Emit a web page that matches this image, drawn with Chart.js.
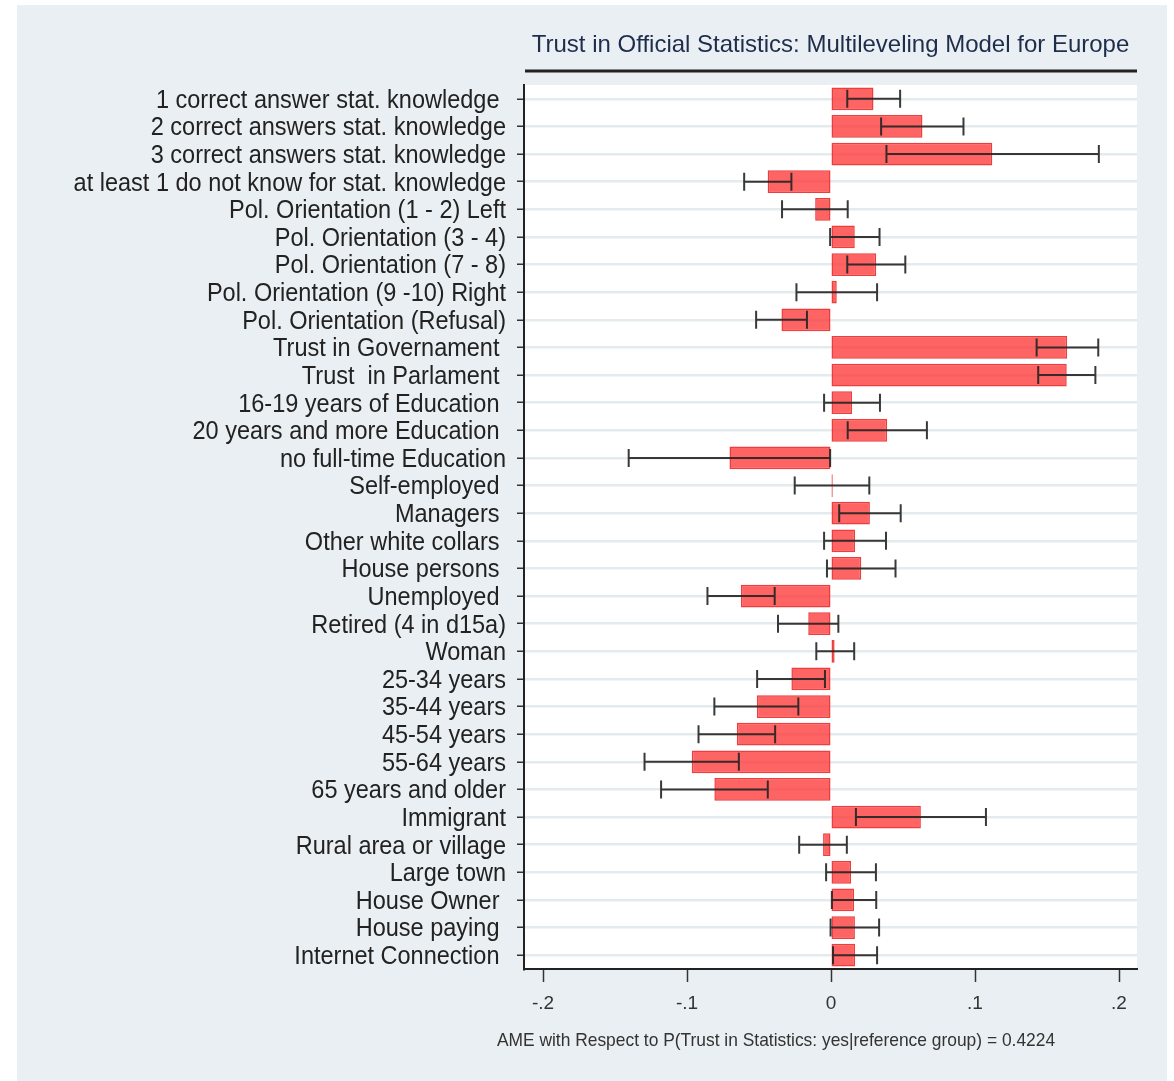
<!DOCTYPE html>
<html>
<head>
<meta charset="utf-8">
<title>Trust in Official Statistics</title>
<script src="https://cdn.jsdelivr.net/npm/chart.js@4.4.1/dist/chart.umd.min.js"></script>
<style>
  html, body { margin: 0; padding: 0; background: #ffffff; }
  #wrap { width: 1174px; height: 1081px; position: relative; }
</style>
</head>
<body>
<div id="wrap"><canvas id="chart" width="1174" height="1081"></canvas></div>
<script>
// Average marginal effects with 95% confidence intervals
const categories = [
  '1 correct answer stat. knowledge ',
  '2 correct answers stat. knowledge',
  '3 correct answers stat. knowledge',
  'at least 1 do not know for stat. knowledge',
  'Pol. Orientation (1 - 2) Left',
  'Pol. Orientation (3 - 4)',
  'Pol. Orientation (7 - 8)',
  'Pol. Orientation (9 -10) Right',
  'Pol. Orientation (Refusal)',
  'Trust in Governament ',
  'Trust  in Parlament ',
  '16-19 years of Education ',
  '20 years and more Education ',
  'no full-time Education',
  'Self-employed ',
  'Managers ',
  'Other white collars ',
  'House persons ',
  'Unemployed ',
  'Retired (4 in d15a)',
  'Woman',
  '25-34 years',
  '35-44 years',
  '45-54 years',
  '55-64 years',
  '65 years and older',
  'Immigrant',
  'Rural area or village',
  'Large town',
  'House Owner ',
  'House paying ',
  'Internet Connection '
];

const ame = [
  0.0295, 0.0635, 0.112, -0.044, -0.011, 0.0165, 0.0314, 0.004, -0.0344,
  0.164, 0.1637, 0.0146, 0.039, -0.0705, 0.0012, 0.027, 0.0167, 0.021,
  -0.0625, -0.0158, 0.0025, -0.0275, -0.0515, -0.0654, -0.0967, -0.081,
  0.0624, -0.0055, 0.0139, 0.016, 0.0166, 0.0167
];

const ciLow = [
  0.0113, 0.0348, 0.0385, -0.0603, -0.034, -0.0006, 0.0113, -0.024, -0.052,
  0.1428, 0.1439, -0.0048, 0.0116, -0.1405, -0.0252, 0.0057, -0.0048, -0.0028,
  -0.0858, -0.0368, -0.0102, -0.0513, -0.081, -0.092, -0.1295, -0.118,
  0.0173, -0.0221, -0.0034, 0.0006, -0.0003, 0.0014
];

const ciHigh = [
  0.048, 0.092, 0.186, -0.0275, 0.0116, 0.0337, 0.0516, 0.032, -0.0167,
  0.1856, 0.1836, 0.034, 0.0666, -0.0006, 0.0266, 0.0484, 0.0382, 0.0448,
  -0.0391, 0.0051, 0.0161, -0.0042, -0.0227, -0.0388, -0.064, -0.0439,
  0.1076, 0.011, 0.0312, 0.0314, 0.0334, 0.032
];

const xTickValues = [-0.2, -0.1, 0, 0.1, 0.2];
const xTickLabels = ['-.2', '-.1', '0', '.1', '.2'];

const chartTitle = 'Trust in Official Statistics: Multileveling Model for Europe';
const xAxisTitle = 'AME with Respect to P(Trust in Statistics: yes|reference group) = 0.4224';

const FONT = "'Liberation Sans', Arial, sans-serif";
const NARROW = 0.94; // horizontal squeeze for the condensed label look

// Category axis whose labels are drawn slightly condensed, anchored at their right edge
class CondensedCategoryScale extends Chart.CategoryScale {
  drawLabels(chartArea) {
    const ctx = this.ctx;
    const o = this.options;
    const ax = this.right - o.grid.tickLength - o.ticks.padding;
    ctx.save();
    ctx.translate(ax, 2);
    ctx.scale(NARROW, 1);
    ctx.translate(-ax, 0);
    super.drawLabels(chartArea);
    ctx.restore();
  }
}
CondensedCategoryScale.id = 'condensedCategory';
CondensedCategoryScale.defaults = Chart.CategoryScale.defaults;
Chart.register(CondensedCategoryScale);

// Panel background, white plot region, rule under the title and the x-axis title
const backdrop = {
  id: 'backdrop',
  beforeDraw(chart) {
    const { ctx, chartArea } = chart;
    ctx.save();
    ctx.fillStyle = '#ffffff';
    ctx.fillRect(0, 0, chart.width, chart.height);
    ctx.fillStyle = '#e9eff2';
    ctx.fillRect(17, 5, 1150, chart.height - 5);
    ctx.fillStyle = '#ffffff';
    ctx.fillRect(chartArea.left, chartArea.top, chartArea.right - chartArea.left, chartArea.bottom - chartArea.top);
    ctx.restore();
  },
  afterDraw(chart) {
    const { ctx, chartArea } = chart;
    ctx.save();
    ctx.strokeStyle = '#222222';
    ctx.lineWidth = 3;
    ctx.beginPath();
    ctx.moveTo(chartArea.left + 1, chartArea.top - 14);
    ctx.lineTo(chartArea.right, chartArea.top - 14);
    ctx.stroke();
    ctx.translate(776, chartArea.bottom + 72);
    ctx.scale(NARROW, 1);
    ctx.fillStyle = '#333333';
    ctx.font = '18.5px ' + FONT;
    ctx.textAlign = 'center';
    ctx.textBaseline = 'middle';
    ctx.fillText(xAxisTitle, 0, 0);
    ctx.restore();
  }
};

// Confidence-interval whiskers drawn over the bars
const ciBars = {
  id: 'ciBars',
  afterDatasetsDraw(chart) {
    const { ctx } = chart;
    const xs = chart.scales.x, ys = chart.scales.y;
    ctx.save();
    ctx.strokeStyle = 'rgba(35,35,35,0.9)';
    ctx.lineWidth = 2;
    const cap = 9;
    for (let i = 0; i < categories.length; i++) {
      const y = ys.getPixelForValue(i);
      const x1 = xs.getPixelForValue(ciLow[i]);
      const x2 = xs.getPixelForValue(ciHigh[i]);
      ctx.beginPath();
      ctx.moveTo(x1, y); ctx.lineTo(x2, y);
      ctx.moveTo(x1, y - cap); ctx.lineTo(x1, y + cap);
      ctx.moveTo(x2, y - cap); ctx.lineTo(x2, y + cap);
      ctx.stroke();
    }
    ctx.restore();
  }
};

new Chart(document.getElementById('chart'), {
  type: 'bar',
  data: {
    labels: categories,
    datasets: [{
      data: ame,
      backgroundColor: 'rgba(255,40,40,0.72)',
      borderColor: 'rgba(235,40,40,0.9)',
      borderWidth: 1.5,
      borderSkipped: false,
      barPercentage: 0.82,
      categoryPercentage: 1.0
    }]
  },
  options: {
    indexAxis: 'y',
    responsive: false,
    maintainAspectRatio: false,
    devicePixelRatio: 1,
    animation: false,
    layout: { padding: { left: 0, right: 37, top: 0, bottom: 0 } },
    plugins: {
      legend: { display: false },
      tooltip: { enabled: false },
      title: {
        display: true,
        text: chartTitle,
        fullSize: false,
        color: '#1f2d4d',
        font: { family: FONT, size: 24, weight: 'normal' },
        padding: { top: 31, bottom: 25.2 }
      }
    },
    scales: {
      x: {
        type: 'linear',
        min: -0.2132,
        max: 0.2125,
        afterFit(scale) { scale.height = 112; },
        afterBuildTicks(scale) { scale.ticks = xTickValues.map(v => ({ value: v })); },
        ticks: {
          color: '#333333',
          font: { family: FONT, size: 19 },
          padding: 10,
          callback(value) {
            const k = xTickValues.findIndex(v => Math.abs(v - value) < 1e-9);
            return k >= 0 ? xTickLabels[k] : '';
          }
        },
        grid: {
          drawOnChartArea: false,
          drawTicks: true,
          tickLength: 13,
          tickColor: '#333333',
          tickWidth: 1.5
        },
        border: { display: true, color: '#222222', width: 2 }
      },
      y: {
        type: 'condensedCategory',
        offset: true,
        afterFit(scale) { scale.width = 524; },
        ticks: {
          color: '#222222',
          font: { family: FONT, size: 25 },
          padding: 11,
          autoSkip: false
        },
        grid: {
          offset: false,
          color: '#e4ebee',
          lineWidth: 2.5,
          drawTicks: true,
          tickLength: 7,
          tickColor: '#333333',
          tickWidth: 1.5
        },
        border: { display: true, color: '#222222', width: 2 }
      }
    }
  },
  plugins: [backdrop, ciBars]
});
</script>
</body>
</html>
